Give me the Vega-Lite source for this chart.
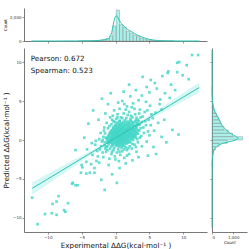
{
"$schema":"https://vega.github.io/schema/vega-lite/v6.json",
"padding":{"left":2,"top":8,"right":4,"bottom":1},
"bounds":"flush",
"spacing":7,
"config":{"font":"DejaVu Sans","view":{"stroke":null},
 "axis":{"grid":false,"domainColor":"#555","tickColor":"#555","domainWidth":0.8,"tickWidth":0.6,"tickSize":2,"labelFontSize":4,"labelColor":"#333","labelPadding":1,"titleFontWeight":"normal","titleColor":"#111"}},
"datasets":{
"pts":[
{"x":-0.6,"y":-0.82},{"x":0.1,"y":-0.76},{"x":0.5,"y":-0.85},{"x":0.9,"y":-0.79},{"x":1.3,"y":-0.74},
{"x":-1.0,"y":-0.52},{"x":-0.5,"y":-0.47},{"x":-0.1,"y":-0.55},{"x":0.3,"y":-0.49},{"x":0.7,"y":-0.44},{"x":1.1,"y":-0.53},{"x":1.6,"y":-0.48},
{"x":-1.2,"y":-0.18},{"x":-0.8,"y":-0.24},{"x":-0.4,"y":-0.16},{"x":0.0,"y":-0.21},{"x":0.35,"y":-0.26},{"x":0.7,"y":-0.15},{"x":1.05,"y":-0.22},{"x":1.45,"y":-0.19},{"x":1.9,"y":-0.25},
{"x":-1.3,"y":0.12},{"x":-0.9,"y":0.06},{"x":-0.55,"y":0.14},{"x":-0.2,"y":0.08},{"x":0.15,"y":0.11},{"x":0.45,"y":0.05},{"x":0.8,"y":0.13},{"x":1.15,"y":0.07},{"x":1.5,"y":0.12},{"x":1.85,"y":0.04},{"x":2.3,"y":0.1},
{"x":-1.1,"y":0.42},{"x":-0.7,"y":0.36},{"x":-0.35,"y":0.44},{"x":0.0,"y":0.38},{"x":0.3,"y":0.41},{"x":0.6,"y":0.35},{"x":0.95,"y":0.43},{"x":1.25,"y":0.37},{"x":1.6,"y":0.45},{"x":1.95,"y":0.39},{"x":2.35,"y":0.42},{"x":2.7,"y":0.36},
{"x":-1.0,"y":0.68},{"x":-0.6,"y":0.74},{"x":-0.25,"y":0.66},{"x":0.1,"y":0.72},{"x":0.4,"y":0.69},{"x":0.75,"y":0.75},{"x":1.05,"y":0.67},{"x":1.4,"y":0.71},{"x":1.75,"y":0.65},{"x":2.1,"y":0.73},{"x":2.5,"y":0.7},{"x":2.9,"y":0.66},
{"x":-0.8,"y":1.02},{"x":-0.4,"y":0.96},{"x":-0.05,"y":1.04},{"x":0.3,"y":0.98},{"x":0.6,"y":1.03},{"x":0.9,"y":0.97},{"x":1.25,"y":1.05},{"x":1.6,"y":0.99},{"x":1.95,"y":1.01},{"x":2.3,"y":0.95},{"x":2.75,"y":1.04},{"x":3.1,"y":0.98},
{"x":-0.5,"y":1.28},{"x":-0.1,"y":1.33},{"x":0.25,"y":1.27},{"x":0.6,"y":1.32},{"x":0.95,"y":1.29},{"x":1.3,"y":1.35},{"x":1.65,"y":1.26},{"x":2.0,"y":1.31},{"x":2.4,"y":1.28},{"x":2.8,"y":1.34},{"x":3.3,"y":1.27},
{"x":-0.3,"y":1.62},{"x":0.15,"y":1.57},{"x":0.55,"y":1.63},{"x":0.9,"y":1.58},{"x":1.3,"y":1.61},{"x":1.7,"y":1.56},{"x":2.1,"y":1.64},{"x":2.5,"y":1.59},{"x":3.0,"y":1.62},
{"x":0.0,"y":1.88},{"x":0.5,"y":1.93},{"x":0.95,"y":1.87},{"x":1.4,"y":1.92},{"x":1.85,"y":1.89},{"x":2.3,"y":1.94},{"x":2.8,"y":1.86},{"x":3.4,"y":1.91},
{"x":0.3,"y":2.22},{"x":0.9,"y":2.17},{"x":1.5,"y":2.24},{"x":2.0,"y":2.19},{"x":2.6,"y":2.23},{"x":3.2,"y":2.16},
{"x":0.6,"y":2.48},{"x":1.4,"y":2.53},{"x":2.2,"y":2.47},{"x":3.0,"y":2.52},
{"x":-0.4,"y":-0.64},{"x":0.3,"y":-0.68},{"x":0.7,"y":-0.62},{"x":1.1,"y":-0.66},
{"x":-1.1,"y":-0.36},{"x":-0.7,"y":-0.33},{"x":-0.3,"y":-0.37},{"x":0.1,"y":-0.34},{"x":0.5,"y":-0.38},{"x":0.9,"y":-0.32},{"x":1.35,"y":-0.36},{"x":1.8,"y":-0.35},
{"x":-1.0,"y":-0.04},{"x":-0.6,"y":-0.07},{"x":-0.2,"y":-0.03},{"x":0.2,"y":-0.06},{"x":0.55,"y":-0.02},{"x":0.9,"y":-0.05},{"x":1.25,"y":-0.08},{"x":1.65,"y":-0.04},{"x":2.1,"y":-0.06},
{"x":-1.15,"y":0.26},{"x":-0.75,"y":0.23},{"x":-0.4,"y":0.27},{"x":-0.05,"y":0.24},{"x":0.3,"y":0.26},{"x":0.6,"y":0.22},{"x":0.95,"y":0.27},{"x":1.3,"y":0.25},{"x":1.7,"y":0.23},{"x":2.05,"y":0.27},{"x":2.5,"y":0.24},
{"x":-0.9,"y":0.56},{"x":-0.5,"y":0.53},{"x":-0.15,"y":0.57},{"x":0.15,"y":0.54},{"x":0.45,"y":0.56},{"x":0.8,"y":0.52},{"x":1.1,"y":0.57},{"x":1.45,"y":0.55},{"x":1.8,"y":0.53},{"x":2.15,"y":0.57},{"x":2.55,"y":0.54},{"x":2.9,"y":0.51},
{"x":-0.8,"y":0.86},{"x":-0.45,"y":0.83},{"x":-0.1,"y":0.87},{"x":0.25,"y":0.84},{"x":0.55,"y":0.86},{"x":0.9,"y":0.82},{"x":1.2,"y":0.87},{"x":1.55,"y":0.85},{"x":1.9,"y":0.83},{"x":2.3,"y":0.87},{"x":2.7,"y":0.84},{"x":3.05,"y":0.82},
{"x":-0.6,"y":1.16},{"x":-0.25,"y":1.13},{"x":0.1,"y":1.17},{"x":0.45,"y":1.14},{"x":0.75,"y":1.16},{"x":1.1,"y":1.12},{"x":1.45,"y":1.17},{"x":1.8,"y":1.15},{"x":2.15,"y":1.13},{"x":2.55,"y":1.17},{"x":2.95,"y":1.14},
{"x":-0.35,"y":1.46},{"x":0.05,"y":1.43},{"x":0.4,"y":1.47},{"x":0.75,"y":1.44},{"x":1.1,"y":1.46},{"x":1.5,"y":1.42},{"x":1.85,"y":1.47},{"x":2.25,"y":1.45},{"x":2.65,"y":1.43},{"x":3.1,"y":1.47},
{"x":-0.1,"y":1.76},{"x":0.3,"y":1.73},{"x":0.7,"y":1.77},{"x":1.15,"y":1.74},{"x":1.6,"y":1.76},{"x":2.05,"y":1.72},{"x":2.55,"y":1.77},{"x":3.1,"y":1.75},
{"x":0.2,"y":2.06},{"x":0.7,"y":2.03},{"x":1.2,"y":2.07},{"x":1.7,"y":2.04},{"x":2.15,"y":2.06},{"x":2.6,"y":2.02},{"x":3.1,"y":2.07},
{"x":0.6,"y":2.36},{"x":1.2,"y":2.33},{"x":1.8,"y":2.37},{"x":2.4,"y":2.34},{"x":2.9,"y":2.36},
{"x":-1.6,"y":-0.3},{"x":-1.8,"y":0.4},{"x":-2.1,"y":-0.8},{"x":-1.5,"y":-1.1},{"x":-2.4,"y":0.1},{"x":-2.7,"y":-1.4},{"x":-1.9,"y":-1.6},{"x":-3.0,"y":-0.6},{"x":-2.2,"y":0.9},{"x":-1.7,"y":1.2},{"x":-2.6,"y":-2.1},{"x":-3.4,"y":-1.9},{"x":-1.4,"y":-1.5},{"x":-1.2,"y":-1.3},{"x":-2.0,"y":-0.2},{"x":-1.55,"y":0.85},
{"x":-0.8,"y":-1.1},{"x":-0.2,"y":-1.0},{"x":0.4,"y":-1.2},{"x":0.9,"y":-1.05},{"x":1.5,"y":-0.95},{"x":2.1,"y":-0.8},{"x":-0.5,"y":-1.5},{"x":0.2,"y":-1.6},{"x":1.0,"y":-1.45},{"x":1.7,"y":-1.3},{"x":2.4,"y":-1.1},{"x":-0.1,"y":-2.1},{"x":0.7,"y":-1.9},{"x":1.3,"y":-2.3},{"x":2.0,"y":-1.8},{"x":-0.9,"y":-2.4},{"x":0.5,"y":-2.7},{"x":2.8,"y":-0.6},{"x":3.1,"y":-1.5},
{"x":2.2,"y":-0.3},{"x":2.6,"y":0.0},{"x":3.0,"y":0.3},{"x":3.3,"y":0.8},{"x":3.5,"y":1.2},{"x":3.8,"y":0.5},{"x":4.1,"y":1.6},{"x":3.6,"y":2.0},{"x":4.4,"y":2.4},{"x":4.8,"y":1.1},{"x":5.2,"y":1.9},{"x":4.0,"y":3.0},{"x":5.5,"y":2.8},{"x":5.9,"y":3.5},{"x":6.3,"y":2.2},{"x":6.8,"y":3.9},{"x":4.6,"y":-0.2},{"x":5.0,"y":0.6},{"x":3.9,"y":-0.8},{"x":7.2,"y":2.6},{"x":5.7,"y":1.2},{"x":6.5,"y":4.6},{"x":3.3,"y":-0.3},{"x":4.3,"y":3.6},
{"x":-0.6,"y":2.0},{"x":-0.3,"y":2.4},{"x":0.1,"y":2.7},{"x":0.8,"y":2.9},{"x":1.6,"y":2.8},{"x":2.5,"y":2.9},{"x":3.3,"y":2.6},{"x":-0.8,"y":2.9},{"x":0.3,"y":3.3},{"x":1.2,"y":3.4},{"x":2.0,"y":3.6},{"x":2.9,"y":3.3},{"x":3.6,"y":3.9},{"x":0.6,"y":4.0},{"x":1.7,"y":4.3},{"x":2.6,"y":4.7},{"x":3.4,"y":5.1},{"x":-0.2,"y":3.8},{"x":1.0,"y":5.0},{"x":2.2,"y":5.6},{"x":4.5,"y":4.9},{"x":3.9,"y":5.7},{"x":0.4,"y":4.8},{"x":2.8,"y":4.0},{"x":1.5,"y":3.9},
{"x":-1.45,"y":0.3},{"x":-1.6,"y":-0.7},{"x":-1.9,"y":0.0},{"x":-1.35,"y":-0.9},{"x":-1.65,"y":1.6},{"x":-2.3,"y":-1.2},{"x":-1.1,"y":1.5},{"x":-0.9,"y":1.8},{"x":-1.2,"y":-0.8},{"x":-0.3,"y":-1.3},{"x":0.6,"y":-1.5},{"x":1.3,"y":-1.2},{"x":1.9,"y":-1.05},{"x":2.5,"y":-0.5},{"x":3.2,"y":0.1},{"x":3.0,"y":-0.9},{"x":3.6,"y":0.3},{"x":3.7,"y":1.5},{"x":3.9,"y":2.3},{"x":3.4,"y":2.4},{"x":3.7,"y":2.9},{"x":3.1,"y":2.85},{"x":2.3,"y":3.1},{"x":1.8,"y":3.2},{"x":1.0,"y":2.8},{"x":0.3,"y":2.9},{"x":-0.1,"y":2.3},{"x":-0.5,"y":2.6},{"x":-1.3,"y":2.2},{"x":4.2,"y":0.9},{"x":4.5,"y":1.9},{"x":4.9,"y":2.6},{"x":5.3,"y":3.3},{"x":4.7,"y":3.8},{"x":5.1,"y":4.4},{"x":2.4,"y":4.2},{"x":1.3,"y":4.6},{"x":-0.6,"y":-1.8},{"x":0.0,"y":-2.5},{"x":1.7,"y":-2.0},{"x":-1.8,"y":-2.2},{"x":-2.9,"y":-0.1},{"x":-0.4,"y":3.1},{"x":3.5,"y":3.4},{"x":2.2,"y":2.7},
{"x":-4.9,"y":-3.5},{"x":-4.2,"y":-1.2},{"x":-5.9,"y":-1.3},{"x":-4.3,"y":-2.8},{"x":-3.6,"y":-3.1},{"x":-2.8,"y":-2.7},{"x":-2.4,"y":-2.9},{"x":-3.1,"y":-3.6},{"x":-4.3,"y":-4.3},{"x":-3.8,"y":-4.2},{"x":-3.1,"y":-4.2},{"x":-5.1,"y":-4.2},{"x":-5.0,"y":-3.2},{"x":-3.5,"y":-0.4},{"x":-4.6,"y":0.3},
{"x":-6.3,"y":-5.5},{"x":-5.6,"y":-5.8},{"x":-5.9,"y":-5.8},{"x":-6.4,"y":-5.6},{"x":-7.0,"y":-8.1},{"x":-7.6,"y":-9.0},{"x":-8.4,"y":-7.2},{"x":-8.7,"y":-7.9},{"x":-9.4,"y":-9.4},{"x":-8.7,"y":-9.6},{"x":-10.4,"y":-9.5},{"x":-11.5,"y":-10.8},{"x":-12.3,"y":-7.4},{"x":-9.3,"y":-8.2},{"x":-7.4,"y":-9.2},
{"x":-2.1,"y":-5.1},{"x":-1.6,"y":-6.4},{"x":-0.5,"y":-4.4},{"x":0.6,"y":-3.6},{"x":-1.0,"y":-3.2},{"x":1.5,"y":-3.0},{"x":2.5,"y":-2.6},{"x":0.2,"y":-5.5},{"x":3.4,"y":-2.2},
{"x":5.2,"y":7.7},{"x":5.8,"y":7.3},{"x":6.9,"y":8.2},{"x":7.7,"y":8.6},{"x":7.8,"y":8.8},{"x":9.1,"y":9.9},{"x":10.5,"y":9.6},{"x":11.3,"y":10.9},{"x":12.2,"y":10.9},{"x":9.4,"y":10.0},{"x":9.1,"y":8.7},{"x":9.9,"y":8.3},{"x":6.1,"y":6.6},{"x":7.3,"y":6.0},{"x":8.2,"y":7.1},{"x":4.6,"y":6.8},{"x":5.0,"y":6.1},{"x":2.0,"y":7.1},{"x":3.0,"y":6.4},{"x":6.6,"y":5.2},{"x":8.0,"y":5.4},{"x":8.8,"y":6.4},{"x":4.0,"y":8.1},{"x":1.2,"y":6.2},{"x":10.8,"y":7.8},
{"x":-1.5,"y":3.4},{"x":-2.5,"y":2.6},{"x":-1.1,"y":4.6},{"x":-3.3,"y":3.8},{"x":-2.0,"y":5.3},{"x":-0.7,"y":6.0},{"x":-4.0,"y":2.1},
{"x":5.6,"y":-0.9},{"x":6.8,"y":0.4},{"x":7.5,"y":-0.3},{"x":4.8,"y":-2.0},{"x":8.4,"y":1.3},{"x":9.3,"y":0.7},{"x":6.0,"y":-1.8}
],
"hx":[
{"a":-5.4,"b":-4.9,"c":3},{"a":-4.9,"b":-4.4,"c":5},{"a":-4.4,"b":-3.9,"c":10},{"a":-3.9,"b":-3.4,"c":15},{"a":-3.4,"b":-2.9,"c":25},{"a":-2.9,"b":-2.4,"c":40},{"a":-2.4,"b":-1.9,"c":65},{"a":-1.9,"b":-1.4,"c":110},{"a":-1.4,"b":-0.9,"c":200},{"a":-0.9,"b":-0.4,"c":420},{"a":-0.4,"b":0.1,"c":1250},{"a":0.1,"b":0.6,"c":2580},{"a":0.6,"b":1.1,"c":1360},{"a":1.1,"b":1.6,"c":1140},{"a":1.6,"b":2.1,"c":800},{"a":2.1,"b":2.6,"c":660},{"a":2.6,"b":3.1,"c":500},{"a":3.1,"b":3.6,"c":360},{"a":3.6,"b":4.1,"c":250},{"a":4.1,"b":4.6,"c":165},{"a":4.6,"b":5.1,"c":100},{"a":5.1,"b":5.6,"c":60},{"a":5.6,"b":6.1,"c":40},{"a":6.1,"b":6.6,"c":25},{"a":6.6,"b":7.1,"c":15},{"a":7.1,"b":7.6,"c":10},{"a":7.6,"b":8.1,"c":6},{"a":8.1,"b":8.6,"c":4}
],
"kx":[
{"v":-12.4,"c":0},{"v":-9,"c":1},{"v":-6,"c":4},{"v":-4,"c":12},{"v":-3,"c":28},{"v":-2.4,"c":50},{"v":-1.9,"c":85},{"v":-1.4,"c":130},{"v":-1.1,"c":190},{"v":-0.8,"c":360},{"v":-0.64,"c":580},{"v":-0.5,"c":850},{"v":-0.39,"c":1200},{"v":-0.25,"c":1600},{"v":-0.15,"c":1850},{"v":0,"c":2050},{"v":0.1,"c":2100},{"v":0.2,"c":2080},{"v":0.34,"c":1950},{"v":0.5,"c":1780},{"v":0.74,"c":1550},{"v":1.0,"c":1380},{"v":1.33,"c":1190},{"v":1.96,"c":900},{"v":2.55,"c":720},{"v":3.14,"c":520},{"v":3.79,"c":360},{"v":4.38,"c":230},{"v":5.0,"c":140},{"v":5.6,"c":80},{"v":6.24,"c":40},{"v":7,"c":20},{"v":8,"c":8},{"v":10,"c":2},{"v":12.4,"c":0}
],
"hy":[
{"a":-3.44,"b":-3.01,"c":5},{"a":-3.01,"b":-2.58,"c":10},{"a":-2.58,"b":-2.15,"c":20},{"a":-2.15,"b":-1.72,"c":40},{"a":-1.72,"b":-1.29,"c":80},{"a":-1.29,"b":-0.86,"c":160},{"a":-0.86,"b":-0.43,"c":330},{"a":-0.43,"b":0,"c":720},{"a":0,"b":0.43,"c":1440},{"a":0.43,"b":0.86,"c":970},{"a":0.86,"b":1.29,"c":760},{"a":1.29,"b":1.72,"c":560},{"a":1.72,"b":2.15,"c":440},{"a":2.15,"b":2.58,"c":370},{"a":2.58,"b":3.01,"c":290},{"a":3.01,"b":3.44,"c":210},{"a":3.44,"b":3.87,"c":130},{"a":3.87,"b":4.3,"c":80},{"a":4.3,"b":4.73,"c":45},{"a":4.73,"b":5.16,"c":25},{"a":5.16,"b":5.59,"c":15},{"a":5.59,"b":6.02,"c":10},{"a":6.02,"b":6.45,"c":6},{"a":6.45,"b":6.88,"c":4}
],
"ky":[
{"v":-11.2,"c":0},{"v":-7,"c":1},{"v":-5,"c":3},{"v":-3,"c":10},{"v":-2,"c":35},{"v":-1.5,"c":70},{"v":-1,"c":170},{"v":-0.5,"c":450},{"v":-0.2,"c":850},{"v":0.1,"c":1180},{"v":0.25,"c":1240},{"v":0.5,"c":1100},{"v":0.8,"c":900},{"v":1.2,"c":700},{"v":1.6,"c":560},{"v":2.0,"c":450},{"v":2.5,"c":360},{"v":3.0,"c":260},{"v":3.5,"c":160},{"v":4.0,"c":90},{"v":4.5,"c":50},{"v":5.0,"c":25},{"v":6,"c":8},{"v":8,"c":2},{"v":11.5,"c":0}
],
"fit":[
{"x":-12.3,"y":-6.21,"lo":-7.01,"hi":-5.41},{"x":-10,"y":-5.0,"lo":-5.66,"hi":-4.34},{"x":-8,"y":-3.95,"lo":-4.49,"hi":-3.41},{"x":-6,"y":-2.9,"lo":-3.32,"hi":-2.48},{"x":-4,"y":-1.85,"lo":-2.15,"hi":-1.55},{"x":-2,"y":-0.8,"lo":-0.98,"hi":-0.62},{"x":0,"y":0.25,"lo":0.17,"hi":0.33},{"x":1,"y":0.775,"lo":0.715,"hi":0.835},{"x":2,"y":1.3,"lo":1.21,"hi":1.39},{"x":4,"y":2.35,"lo":2.15,"hi":2.55},{"x":6,"y":3.4,"lo":3.08,"hi":3.72},{"x":8,"y":4.45,"lo":4.02,"hi":4.88},{"x":10,"y":5.5,"lo":4.96,"hi":6.04},{"x":12.35,"y":6.73,"lo":6.07,"hi":7.39}
],
"lab":[{"t":"Pearson: 0.672","x":-12.5,"y":10.45},{"t":"Spearman: 0.523","x":-12.5,"y":8.8}]
},
"vconcat":[
{"width":183,"height":33,
 "layer":[
  {"data":{"name":"hx"},"mark":{"type":"rect","fill":"#40e0d0","fillOpacity":0.45,"stroke":"#888888","strokeWidth":0.4},
   "encoding":{"x":{"field":"a","type":"quantitative","scale":{"domain":[-13.5,13.5],"nice":false,"zero":false},"axis":{"values":[-10,-5,0,5,10],"labels":false,"title":null}},
    "x2":{"field":"b"},
    "y":{"field":"c","type":"quantitative","scale":{"domain":[0,2750],"nice":false},"axis":{"values":[0,1000,2000],"title":"Count","titleFontSize":4,"titlePadding":2}},
    "y2":{"datum":0}}},
  {"data":{"name":"kx"},"mark":{"type":"line","color":"#2ec4b4","strokeWidth":1,"interpolate":"monotone"},
   "encoding":{"x":{"field":"v","type":"quantitative"},"y":{"field":"c","type":"quantitative"}}}
 ]},
{"hconcat":[
 {"width":183,"height":184,
  "layer":[
   {"data":{"name":"fit"},"mark":{"type":"area","color":"#40e0d0","opacity":0.22},
    "encoding":{"x":{"field":"x","type":"quantitative","scale":{"domain":[-13.5,13.5],"nice":false,"zero":false},"axis":{"values":[-10,-5,0,5,10],"title":"Experimental ΔΔG(kcal·mol⁻¹ )","titleFontSize":7.2,"titlePadding":2}},
     "y":{"field":"lo","type":"quantitative","scale":{"domain":[-11.8,11.8],"nice":false,"zero":false},"axis":{"values":[-10,-5,0,5,10],"title":"Predicted ΔΔG(kcal·mol⁻¹ )","titleFontSize":7.2,"titlePadding":2}},
     "y2":{"field":"hi"}}},
   {"data":{"name":"pts"},"mark":{"type":"square","size":7,"color":"#3ed6c6","opacity":0.8},
    "encoding":{"x":{"field":"x","type":"quantitative"},"y":{"field":"y","type":"quantitative"}}},
   {"data":{"name":"fit"},"mark":{"type":"line","color":"#2fc2b2","strokeWidth":1},
    "encoding":{"x":{"field":"x","type":"quantitative"},"y":{"field":"y","type":"quantitative"}}},
   {"data":{"name":"lab"},"mark":{"type":"text","align":"left","baseline":"middle","fontSize":7.2,"color":"#111111"},
    "encoding":{"x":{"field":"x","type":"quantitative"},"y":{"field":"y","type":"quantitative"},"text":{"field":"t"}}}
  ]},
 {"width":35,"height":184,
  "layer":[
   {"data":{"name":"hy"},"mark":{"type":"rect","fill":"#40e0d0","fillOpacity":0.45,"stroke":"#888888","strokeWidth":0.4},
    "encoding":{"y":{"field":"a","type":"quantitative","scale":{"domain":[-11.8,11.8],"nice":false,"zero":false},"axis":{"values":[-10,-5,0,5,10],"labels":false,"title":null}},
     "y2":{"field":"b"},
     "x":{"field":"c","type":"quantitative","scale":{"domain":[0,1650],"nice":false},"axis":{"values":[0,500,1000],"title":"Count","titleFontSize":4,"titlePadding":1}},
     "x2":{"datum":0}}},
   {"data":{"name":"ky"},"mark":{"type":"line","color":"#2ec4b4","strokeWidth":1,"interpolate":"monotone"},
    "encoding":{"y":{"field":"v","type":"quantitative"},"x":{"field":"c","type":"quantitative"},"order":{"field":"v","type":"quantitative"}}}
  ]}
 ],"spacing":5,"bounds":"flush"}
]
}
